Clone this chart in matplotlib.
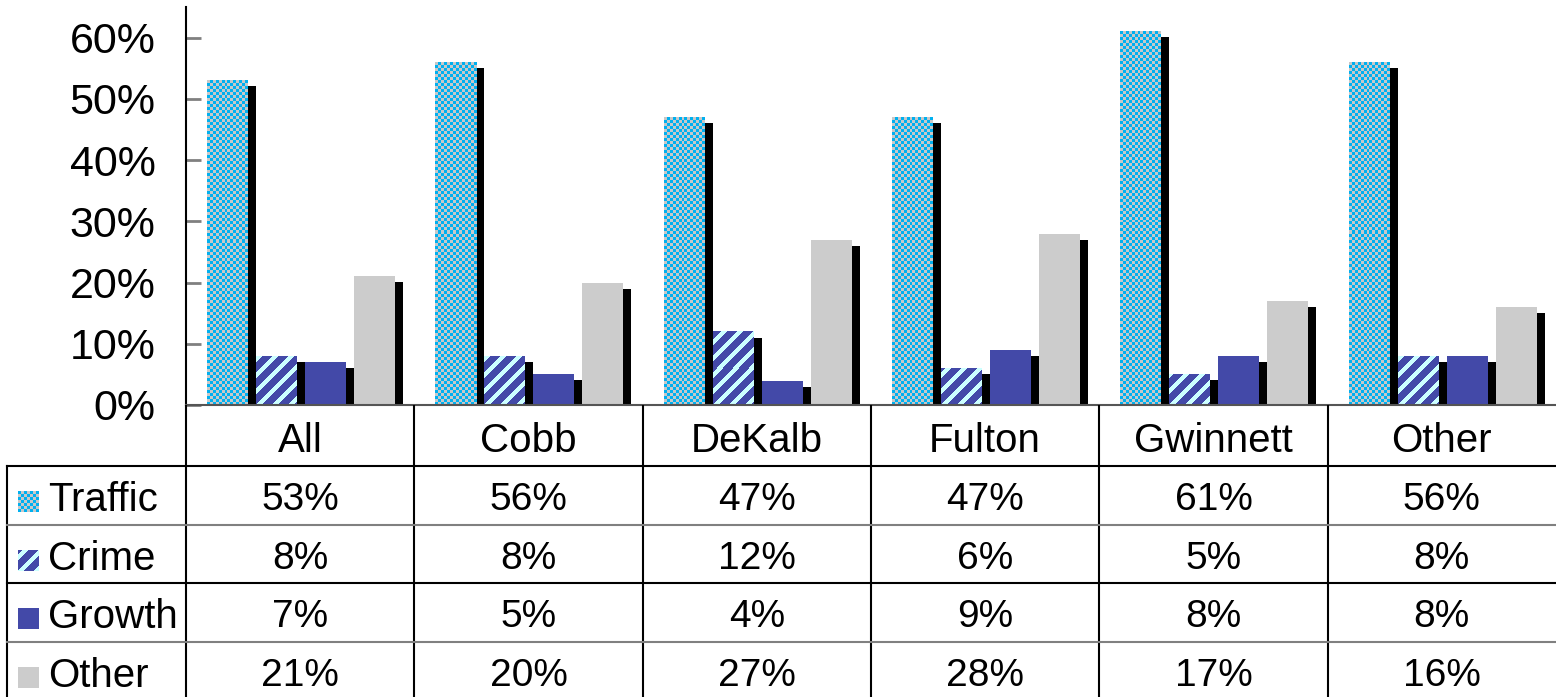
import numpy as np
import matplotlib
matplotlib.use('Agg')
import matplotlib.pyplot as plt
from matplotlib.colors import ListedColormap
from matplotlib.patches import Rectangle
from matplotlib.ticker import PercentFormatter

plt.rcParams['font.family'] = ['Liberation Sans', 'DejaVu Sans']

# data (percent)
categories = ['All', 'Cobb', 'DeKalb', 'Fulton', 'Gwinnett', 'Other']
series = ['Traffic', 'Crime', 'Growth', 'Other']
traffic = [53, 56, 47, 47, 61, 56]
crime = [8, 8, 12, 6, 5, 8]
growth = [7, 5, 4, 9, 8, 8]
other = [21, 20, 27, 28, 17, 16]
values = [traffic, crime, growth, other]

CYAN = '#00B0F0'
CHECK_GRAY = '#C8C8C8'
NAVY = '#4349A8'
STRIPE = '#CCFFFF'
LIGHT = '#CCCCCC'
checker_cmap = ListedColormap([CYAN, CHECK_GRAY])
stripe_cmap = ListedColormap([NAVY, STRIPE])

# layout in pixels
W, H = 1556, 697
ax_l, ax_r, ax_top, ax_bot = 186, 1556, 7, 405
ymax = 0.65
col_w = (ax_r - ax_l) / len(categories)
px_per_y = (ax_bot - ax_top) / ymax

bar_px = 41
bar_w = bar_px / col_w
step = 49 / col_w
first = 21 / col_w
shadow_dx = 8 / col_w
shadow_dy = 6 / px_per_y

fig = plt.figure(figsize=(W / 100, H / 100), dpi=100)
ax = fig.add_axes([ax_l / W, 1 - ax_bot / H, (ax_r - ax_l) / W, (ax_bot - ax_top) / H])


def checker(axis, x0, x1, y0, y1, nx, ny):
    yy, xx = np.indices((ny, nx))
    axis.imshow((xx + yy) % 2, cmap=checker_cmap, extent=(x0, x1, y0, y1),
                interpolation='nearest', aspect='auto', origin='lower', zorder=2)


def stripes(axis, x0, x1, y0, y1, nx, ny):
    yy, xx = np.indices((ny, nx))
    pat = ((xx - yy) % 16 < 6).astype(int)
    axis.imshow(pat, cmap=stripe_cmap, extent=(x0, x1, y0, y1),
                interpolation='nearest', aspect='auto', origin='lower', zorder=2)


x = np.arange(len(categories))
for j, vals in enumerate(values):
    h = np.array(vals) / 100
    left = x + first + j * step
    ax.bar(left + shadow_dx, h - shadow_dy, bar_w, align='edge', color='black',
           linewidth=0, zorder=1)
    if j == 0:
        for lx, hv in zip(left, h):
            ny = max(1, int(round(hv * px_per_y / 3)))
            checker(ax, lx, lx + bar_w, 0, hv, 14, ny)
    elif j == 1:
        for lx, hv in zip(left, h):
            ny = max(1, int(round(hv * px_per_y)))
            stripes(ax, lx, lx + bar_w, 0, hv, bar_px, ny)
    elif j == 2:
        ax.bar(left, h, bar_w, align='edge', color=NAVY, linewidth=0, zorder=2)
    else:
        ax.bar(left, h, bar_w, align='edge', color=LIGHT, linewidth=0, zorder=2)

ax.set_xlim(0, len(categories))
ax.set_ylim(0, ymax)
ax.set_xticks([])
ax.set_yticks(np.arange(0, 0.61, 0.1))
ax.yaxis.set_major_formatter(PercentFormatter(1.0, decimals=0))
ax.tick_params(axis='y', direction='in', length=11, width=2, color='#808080',
               labelsize=31, pad=22)
for s in ['top', 'right']:
    ax.spines[s].set_visible(False)
ax.spines['left'].set_linewidth(1.5)
ax.spines['bottom'].set_color('#555555')
ax.spines['bottom'].set_linewidth(1.5)

# data table below the chart
tab = fig.add_axes([0, 0, 1, (H - ax_bot) / H])
tab.axis('off')

row_tops = [466, 525, 583, 642]
row_h = 58.5
label_left = 7

for i in range(len(categories)):
    tab.plot([ax_l + i * col_w] * 2, [ax_bot, H], color='black', lw=1.5)
tab.plot([label_left, label_left], [row_tops[0], H], color='black', lw=1.5)
line_cols = ['black', '#808080', 'black', '#808080']
for yt, c in zip(row_tops, line_cols):
    tab.plot([label_left, W], [yt, yt], color=c, lw=1.5)

for i, cat in enumerate(categories):
    tab.text(ax_l + (i + 0.5) * col_w, (ax_bot + row_tops[0]) / 2 + 5, cat,
             ha='center', va='center', fontsize=29)

for j, (name, vals) in enumerate(zip(series, values)):
    yc = row_tops[j] + row_h / 2
    sy0, sy1 = yc + 17, yc - 4
    if j == 0:
        checker(tab, 18, 39, sy0, sy1, 7, 7)
    elif j == 1:
        stripes(tab, 18, 39, sy0, sy1, 21, 21)
    elif j == 2:
        tab.add_patch(Rectangle((18, sy1), 21, sy0 - sy1, facecolor=NAVY, linewidth=0))
    else:
        tab.add_patch(Rectangle((18, sy1), 21, sy0 - sy1, facecolor=LIGHT, linewidth=0))
    tab.text(48, yc + 5, name, ha='left', va='center', fontsize=29)
    for i, v in enumerate(vals):
        tab.text(ax_l + (i + 0.5) * col_w, yc + 5, f'{v}%', ha='center',
                 va='center', fontsize=28)

tab.set_xlim(0, W)
tab.set_ylim(H, ax_bot)

fig.savefig('out.png', dpi=100)
